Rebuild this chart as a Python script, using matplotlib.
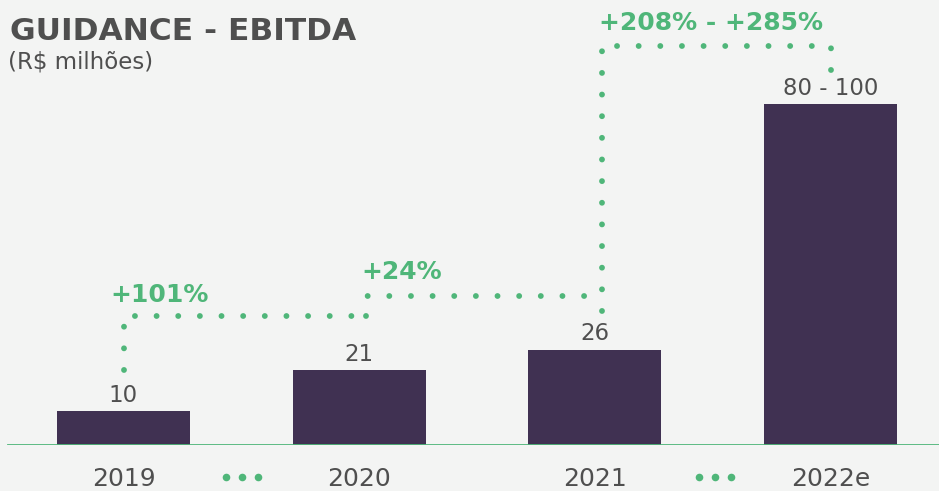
import matplotlib
matplotlib.use("Agg")
import matplotlib.pyplot as plt

# ---- data ----
categories = ["2019", "2020", "2021", "2022e"]
bar_heights = [10, 22, 28, 100]          # drawn heights (R$ mi)
value_labels = ["10", "21", "26", "80 - 100"]
growth_labels = ["+101%", "+24%", "+208% - +285%"]

# ---- style ----
BG = "#f3f4f3"
BAR = "#403152"
GREEN = "#4fb679"
GRAY = "#4f4f4f"

W, H, DPI = 939, 491, 100
fig = plt.figure(figsize=(W / DPI, H / DPI), dpi=DPI, facecolor=BG)

px_per_unit = 3.41
base_px = 46  # baseline from bottom
ax = fig.add_axes([0, base_px / H, 1, 1 - base_px / H])
ax.set_facecolor(BG)
step = 235.67
ax.set_xlim(-123.5 / step, (W - 123.5) / step)
ax.set_ylim(0, (H - base_px) / px_per_unit)
for s in ax.spines.values():
    s.set_visible(False)
ax.set_yticks([])

x = list(range(len(categories)))
ax.bar(x, bar_heights, width=133 / step, color=BAR, zorder=2)
ax.set_xticks(x)
ax.set_xticklabels(categories, fontsize=18, color=GRAY)
ax.tick_params(axis="x", length=0, pad=16)

# baseline
ax.axhline(0, xmin=8 / W, xmax=1, color=GREEN, lw=2, zorder=3)

# value labels
for xi, h, lab in zip(x, bar_heights, value_labels):
    ax.annotate(lab, (xi, h), xytext=(0, 3), textcoords="offset points",
                ha="center", va="bottom", fontsize=16.5, color=GRAY)

def py(ypx):
    return (445 - ypx) / px_per_unit

def ix(xpx):
    return (xpx - 123.5) / step

dot_kw = dict(color=GREEN, lw=4.2, ls=(0, (0.01, 3.7)),
              dash_capstyle="round", solid_capstyle="round", zorder=4, clip_on=False)

# connectors
ax.plot([ix(124), ix(124), ix(366)], [py(370), py(316), py(316)], **dot_kw)
ax.plot([ix(366), ix(366), ix(602)], [py(316), py(296), py(296)], **dot_kw)
ax.plot([ix(602), ix(602)], [py(311), py(50.5)], **dot_kw)
ax.plot([ix(617), ix(812.5)], [py(46), py(46)], **dot_kw)
ax.plot([ix(831), ix(831)], [py(70), py(47.5)], **dot_kw)

# growth labels
ax.text(ix(160), py(295), growth_labels[0], ha="center", va="center",
        fontsize=18, fontweight="bold", color=GREEN)
ax.text(ix(402), py(272), growth_labels[1], ha="center", va="center",
        fontsize=18, fontweight="bold", color=GREEN)
ax.text(ix(711), py(23), growth_labels[2], ha="center", va="center",
        fontsize=18, fontweight="bold", color=GREEN)

# ellipsis dots between categories
for cx in (242, 715):
    ax.scatter([ix(cx - 16), ix(cx), ix(cx + 16)], [py(477)] * 3, s=30,
               color=GREEN, clip_on=False, zorder=4, linewidths=0)

# titles
fig.text(10 / W, (H - 40) / H, "GUIDANCE - EBITDA", fontsize=22.5, fontweight="bold",
         color=GRAY, ha="left", va="baseline")
fig.text(8 / W, (H - 68) / H, "(R$ milhões)", fontsize=16.5, color=GRAY,
         ha="left", va="baseline")

fig.savefig("out.png", dpi=DPI, facecolor=BG)
